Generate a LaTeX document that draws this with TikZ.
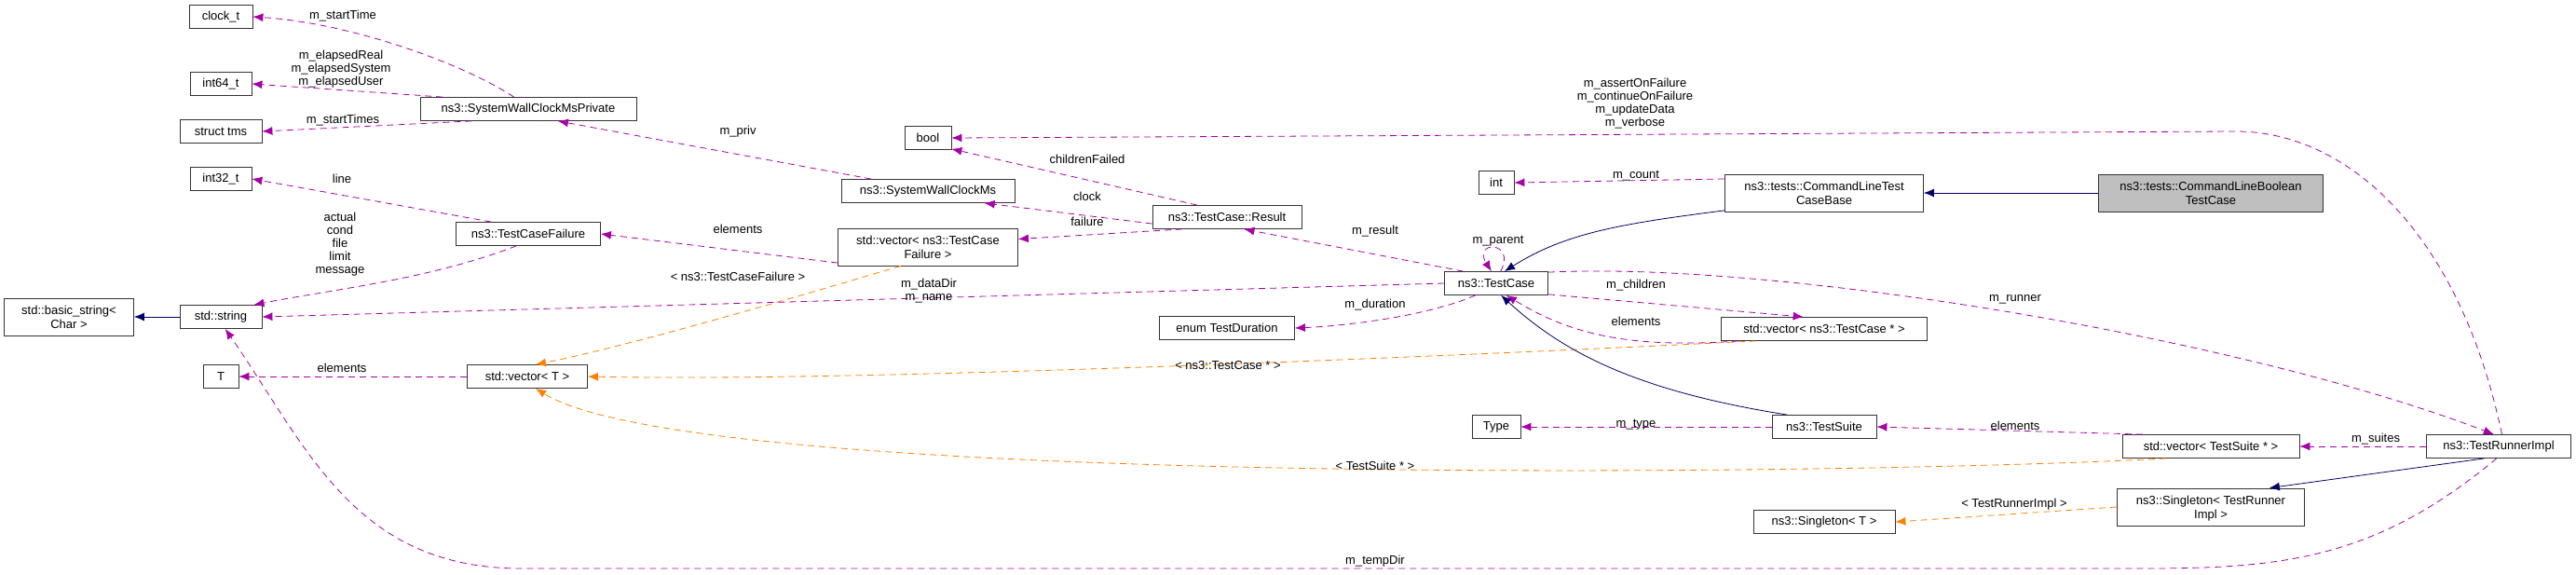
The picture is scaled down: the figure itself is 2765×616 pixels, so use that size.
\documentclass[tikz,border=0pt]{standalone}
\usepackage{fontspec}
\setmainfont{Liberation Sans}
\usetikzlibrary{arrows.meta}

\begin{document}
\begin{tikzpicture}[x=1pt,y=-1pt,
    font=\fontsize{13}{15}\selectfont,
    cls/.style={draw=black!80,thick,fill=white,minimum height=25pt,inner sep=2pt,align=center},
    cls2/.style={cls,minimum height=40pt,text depth=0pt},
    lbl/.style={align=center,inner sep=0pt,font=\fontsize{13}{14}\selectfont},
    use/.style={draw=violet!70!magenta,thick,dashed,dash pattern=on 7pt off 5pt,
        -{Latex[length=11pt,width=9pt]}},
    tmpl/.style={use,draw=orange},
    inh/.style={draw=blue!40!black,thick,-{Latex[length=11pt,width=9pt]}}]

    \useasboundingbox (0,0) rectangle (2765,616);

    % classes on the left
    \node[cls,minimum width=68pt] (clockt) at (237,18) {clock\_t};
    \node[cls,minimum width=66pt] (int64) at (237,90) {int64\_t};
    \node[cls,minimum width=88pt] (tms) at (237,141) {struct tms};
    \node[cls,minimum width=66pt] (int32) at (237,192) {int32\_t};
    \node[cls2,minimum width=139pt] (bstr) at (74,340) {std::basic\_string\textless\\Char \textgreater};
    \node[cls,minimum width=88pt] (str) at (237,340) {std::string};
    \node[cls,minimum width=38pt] (T) at (237,404) {T};

    \node[cls,minimum width=232pt] (swcp) at (567,117) {ns3::SystemWallClockMsPrivate};
    \node[cls,minimum width=155pt] (tcf) at (567,251) {ns3::TestCaseFailure};
    \node[cls,minimum width=129pt] (vect) at (566,404) {std::vector\textless{} T \textgreater};

    \node[cls,minimum width=50pt] (bool) at (996,148) {bool};
    \node[cls,minimum width=186pt] (swcms) at (996,205) {ns3::SystemWallClockMs};
    \node[cls2,minimum width=193pt] (vtcf) at (996,265) {std::vector\textless{} ns3::TestCase\\Failure \textgreater};

    \node[cls,minimum width=160pt] (res) at (1317,233) {ns3::TestCase::Result};
    \node[cls,minimum width=145pt] (dur) at (1317,352) {enum TestDuration};

    \node[cls,minimum width=38pt] (int) at (1606,196) {int};
    \node[cls,minimum width=111pt] (tc) at (1606,304) {ns3::TestCase};
    \node[cls,minimum width=52pt] (type) at (1606,458) {Type};

    \node[cls2,minimum width=213pt] (cltcb) at (1958,207) {ns3::tests::CommandLineTest\\CaseBase};
    \node[cls,minimum width=221pt] (vtcs) at (1958,353) {std::vector\textless{} ns3::TestCase * \textgreater};
    \node[cls,minimum width=112pt] (ts) at (1958,458) {ns3::TestSuite};
    \node[cls,minimum width=152pt] (singt) at (1958,560) {ns3::Singleton\textless{} T \textgreater};

    \node[cls2,minimum width=241pt,fill=black!25] (clbool) at (2373,207) {ns3::tests::CommandLineBoolean\\TestCase};
    \node[cls,minimum width=190pt] (vts) at (2373,479) {std::vector\textless{} TestSuite * \textgreater};
    \node[cls2,minimum width=201pt] (singtri) at (2373,544) {ns3::Singleton\textless{} TestRunner\\Impl \textgreater};
    \node[cls,minimum width=155pt] (tri) at (2682,479) {ns3::TestRunnerImpl};

    % members
    \draw[use] (swcp.140) .. controls (500,70) and (380,25) .. (clockt.east)
        node[lbl,at={(368,17)}] {m\_startTime};
    \draw[use] (swcp.172) -- (int64.east)
        node[lbl,at={(366,74)}] {m\_elapsedReal\\m\_elapsedSystem\\m\_elapsedUser};
    \draw[use] (swcp.192) -- (tms.east)
        node[lbl,at={(368,129)}] {m\_startTimes};
    \draw[use] (swcms.168) -- (swcp.-22)
        node[lbl,at={(792,141)}] {m\_priv};
    \draw[use] (tcf.162) -- (int32.east)
        node[lbl,at={(367,192)}] {line};
    \draw[use] (tcf.-135) .. controls (460,300) and (360,310) .. (str.20)
        node[lbl,at={(365,262)}] {actual\\cond\\file\\limit\\message};
    \draw[use] (vtcf.190) -- (tcf.east)
        node[lbl,at={(792,246)}] {elements};
    \draw[tmpl] (vtcf.-145) .. controls (850,320) and (680,370) .. (vect.55)
        node[lbl,at={(792,297)}] {\textless{} ns3::TestCaseFailure \textgreater};
    \draw[inh] (str.west) -- (bstr.east);
    \draw[use] (tc.west) -- (str.east)
        node[lbl,at={(997,312)}] {m\_dataDir\\m\_name};
    \draw[use] (vect.west) -- (T.east)
        node[lbl,at={(367,395)}] {elements};
    \draw[tmpl] (vtcs.-170) .. controls (1500,385) and (900,410) .. (vect.east)
        node[lbl,at={(1318,392)}] {\textless{} ns3::TestCase * \textgreater};
    \draw[tmpl] (vts.-165) .. controls (2000,510) and (750,525) .. (vect.-55)
        node[lbl,at={(1476,500)}] {\textless{} TestSuite * \textgreater};
    \draw[use] (tri.-100) .. controls (2550,600) and (2450,610) .. (2300,610)
        -- (560,610) .. controls (380,610) and (330,480) .. (str.-70)
        node[lbl,at={(1476,602)}] {m\_tempDir};
    \draw[use] (res.158) -- (bool.-25)
        node[lbl,at={(1167,171)}] {childrenFailed};
    \draw[use] (res.-175) -- (swcms.-12)
        node[lbl,at={(1167,211)}] {clock};
    \draw[use] (res.-165) -- (vtcf.5)
        node[lbl,at={(1167,238)}] {failure};
    \draw[use] (tc.160) -- (res.-35)
        node[lbl,at={(1476,248)}] {m\_result};
    \draw[use] (tc.70) .. controls (1628,258) and (1580,258) .. (tc.112)
        node[lbl,at={(1608,259)}] {m\_parent};
    \draw[use] (tc.-150) .. controls (1530,340) and (1440,350) .. (dur.east)
        node[lbl,at={(1476,327)}] {m\_duration};
    \draw[use] (tc.-12) -- (vtcs.150)
        node[lbl,at={(1756,306)}] {m\_children};
    \draw[use] (vtcs.-172) .. controls (1740,375) and (1680,355) .. (tc.-50)
        node[lbl,at={(1756,345)}] {elements};
    \draw[use] (tri.75) .. controls (2640,250) and (2520,141) .. (2400,141)
        -- (bool.east)
        node[lbl,at={(1755,111)}] {m\_assertOnFailure\\m\_continueOnFailure\\m\_updateData\\m\_verbose};
    \draw[use] (cltcb.172) -- (int.east)
        node[lbl,at={(1756,189)}] {m\_count};
    \draw[use] (tc.12) .. controls (1900,280) and (2400,360) .. (tri.112)
        node[lbl,at={(2163,321)}] {m\_runner};
    \draw[use] (ts.west) -- (type.east)
        node[lbl,at={(1756,456)}] {m\_type};
    \draw[use] (vts.170) -- (ts.east)
        node[lbl,at={(2163,457)}] {elements};
    \draw[use] (tri.west) -- (vts.east)
        node[lbl,at={(2550,471)}] {m\_suites};
    \draw[tmpl] (singtri.west) -- (singt.east)
        node[lbl,at={(2162,541)}] {\textless{} TestRunnerImpl \textgreater};

    % inheritance
    \draw[inh] (clbool.west) -- (cltcb.east);
    \draw[inh] (cltcb.-170) .. controls (1740,240) and (1680,250) .. (tc.55);
    \draw[inh] (ts.162) .. controls (1760,420) and (1680,380) .. (tc.-68);
    \draw[inh] (tri.-140) -- (singtri.18);

\end{tikzpicture}
\end{document}
